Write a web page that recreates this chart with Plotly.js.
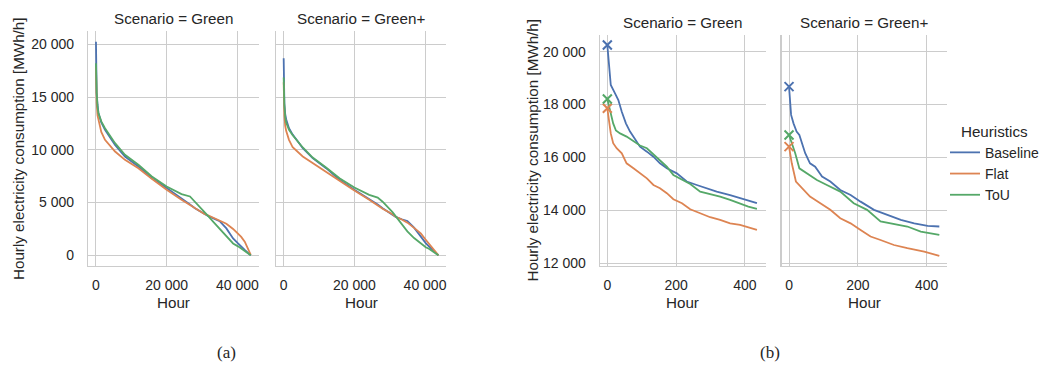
<!DOCTYPE html>
<html>
<head>
<meta charset="utf-8">
<script src="https://cdn.plot.ly/plotly-3.0.1.min.js"></script>
<style>
  html, body { margin: 0; padding: 0; background: #ffffff; }
  #chart { width: 1047px; height: 367px; }
</style>
</head>
<body>
<div id="chart"></div>
<script>
// ---------------- DATA ----------------
const heuristics = ["Baseline", "Flat", "ToU"];
const scenarios = ["Green", "Green+"];

// (a) full load-duration curves, hours 0 .. 43800
const aHours = [0, 10, 50, 100, 200, 438, 700, 1500, 2550, 5400, 8200, 12000, 15800, 20000,
                24200, 26600, 28000, 30800, 31700, 33400, 35000, 36900, 38800, 40200, 41100, 42100, 43800];

const aGreenBaseline = [20250, 18740, 17350, 16400, 15400, 14300, 13500, 12600, 11900, 10470, 9370, 8420, 7310, 6370,
                        5420, 4830, 4470, 3900, 3740, 3480, 3240, 2550, 1600, 1130, 820, 520, 0];
const aGreenFlat     = [17860, 16910, 15700, 15300, 14450, 13260, 12800, 11700, 10950, 9840, 9050, 8260, 7250, 6210,
                        5260, 4760, 4410, 3900, 3800, 3560, 3330, 3000, 2500, 2080, 1750, 1290, 50];
const aGreenToU      = [18210, 17700, 16800, 16420, 15380, 14060, 13450, 12700, 12050, 10630, 9530, 8580, 7470, 6520,
                        5800, 5580, 5100, 4090, 3740, 3100, 2500, 1750, 1130, 850, 660, 420, 0];

const aGreenPBaseline = [18680, 17400, 16100, 15300, 14380, 13390, 12900, 12050, 11440, 10160, 9210, 8260, 7160, 6210,
                         5350, 4830, 4470, 3900, 3650, 3420, 3260, 2620, 1720, 1160, 860, 520, 0];
const aGreenPFlat     = [16410, 15700, 14650, 14200, 13250, 12280, 11800, 10950, 10240, 9370, 8740, 7950, 7060, 6140,
                         5260, 4740, 4410, 3900, 3650, 3400, 3100, 2600, 2080, 1480, 1100, 750, 0];
const aGreenPToU      = [16850, 16500, 15420, 15020, 14200, 13070, 12600, 11900, 11380, 10220, 9270, 8330, 7310, 6430,
                         5730, 5480, 5080, 4090, 3700, 2880, 2270, 1640, 1080, 760, 620, 420, 0];

// (b) zoom on the first 1 % of hours
const bGreenBaselineH = [0, 10, 22, 32, 42, 54, 66, 81, 95, 115, 134, 153, 173, 202, 231, 260, 289, 318, 357, 386, 406, 435];
const bGreenBaseline  = [20250, 18740, 18430, 18170, 17730, 17290, 16980, 16660, 16410, 16220, 16030, 15780, 15590, 15400,
                         15090, 14960, 14840, 14710, 14580, 14460, 14370, 14270];
const bGreenFlatH = [0, 4, 10, 17, 27, 42, 56, 76, 95, 115, 134, 153, 173, 192, 217, 241, 270, 299, 328, 357, 386, 410, 435];
const bGreenFlat  = [17860, 17420, 16910, 16540, 16350, 16160, 15780, 15590, 15400, 15210, 14960, 14840, 14650, 14420,
                     14270, 14040, 13890, 13740, 13640, 13510, 13450, 13360, 13260];
const bGreenToUH = [0, 6, 17, 25, 37, 56, 76, 95, 115, 134, 153, 173, 192, 217, 241, 270, 299, 328, 357, 386, 410, 435];
const bGreenToU  = [18210, 17860, 17290, 17020, 16910, 16790, 16600, 16450, 16350, 16130, 15910, 15650, 15340, 15150,
                    15000, 14710, 14620, 14520, 14400, 14270, 14140, 14060];

const bGreenPBaselineH = [0, 3, 6, 13, 22, 30, 37, 47, 61, 76, 96, 120, 149, 179, 208, 247, 286, 325, 364, 403, 437];
const bGreenPBaseline  = [18680, 18170, 17610, 17290, 16980, 16850, 16540, 16160, 15780, 15650, 15280, 15090, 14770,
                          14580, 14330, 14020, 13830, 13640, 13510, 13410, 13390];
const bGreenPFlatH = [0, 3, 8, 20, 42, 61, 91, 120, 149, 179, 208, 237, 266, 305, 344, 393, 437];
const bGreenPFlat  = [16410, 16160, 15780, 15090, 14770, 14520, 14270, 14020, 13700, 13510, 13260, 13010, 12880, 12690,
                      12570, 12440, 12280];
const bGreenPToUH = [0, 3, 8, 18, 30, 52, 81, 110, 149, 188, 227, 266, 305, 344, 383, 437];
const bGreenPToU  = [16850, 16730, 16600, 16160, 15590, 15400, 15150, 14960, 14710, 14270, 14020, 13580, 13490, 13390,
                     13200, 13070];

// ---------------- STYLE / LAYOUT ----------------
const W = 1047, H = 367;
const colors = {Baseline: "#4c72b0", Flat: "#dd8452", ToU: "#55a868"};
const textColor = "#262626";
const gridColor = "#cccccc";
const FONT = "Liberation Sans, Arial, sans-serif";
const FS_TICK = 14;
const FS_LABEL = 15.2;

const px = v => v / W;
const py = v => 1 - v / H;

const traces = [];
function addLine(x, y, name, xa, ya, legend) {
  traces.push({
    type: "scatter", mode: "lines", x: x, y: y, name: name,
    xaxis: xa, yaxis: ya, legendgroup: name, showlegend: legend,
    line: {color: colors[name], width: 1.8},
    hoverinfo: "skip"
  });
}
function addMark(x, y, name, xa, ya) {
  traces.push({
    type: "scatter", mode: "markers", x: [x[0]], y: [y[0]], name: name,
    xaxis: xa, yaxis: ya, legendgroup: name, showlegend: false,
    marker: {symbol: "x-thin", size: 9, color: colors[name], line: {color: colors[name], width: 2}},
    hoverinfo: "skip"
  });
}

// (a)
addLine(aHours, aGreenBaseline, "Baseline", "x", "y", false);
addLine(aHours, aGreenFlat, "Flat", "x", "y", false);
addLine(aHours, aGreenToU, "ToU", "x", "y", false);
addLine(aHours, aGreenPBaseline, "Baseline", "x2", "y2", false);
addLine(aHours, aGreenPFlat, "Flat", "x2", "y2", false);
addLine(aHours, aGreenPToU, "ToU", "x2", "y2", false);
// (b)
addLine(bGreenBaselineH, bGreenBaseline, "Baseline", "x3", "y3", true);
addLine(bGreenFlatH, bGreenFlat, "Flat", "x3", "y3", true);
addLine(bGreenToUH, bGreenToU, "ToU", "x3", "y3", true);
addLine(bGreenPBaselineH, bGreenPBaseline, "Baseline", "x4", "y4", false);
addLine(bGreenPFlatH, bGreenPFlat, "Flat", "x4", "y4", false);
addLine(bGreenPToUH, bGreenPToU, "ToU", "x4", "y4", false);
addMark(bGreenBaselineH, bGreenBaseline, "Baseline", "x3", "y3");
addMark(bGreenFlatH, bGreenFlat, "Flat", "x3", "y3");
addMark(bGreenToUH, bGreenToU, "ToU", "x3", "y3");
addMark(bGreenPBaselineH, bGreenPBaseline, "Baseline", "x4", "y4");
addMark(bGreenPFlatH, bGreenPFlat, "Flat", "x4", "y4");
addMark(bGreenPToUH, bGreenPToU, "ToU", "x4", "y4");

function xAxis(d0, d1, range, dtick, anchor) {
  return {
    domain: [px(d0), px(d1)], range: range, anchor: anchor, dtick: dtick, tick0: 0,
    showgrid: true, gridcolor: gridColor, gridwidth: 1, zeroline: false,
    showline: true, linecolor: gridColor, linewidth: 1.25,
    ticks: "outside", ticklen: 6, tickcolor: "rgba(0,0,0,0)",
    tickformat: ",d", tickfont: {family: FONT, size: FS_TICK, color: textColor},
    fixedrange: true
  };
}
function yAxis(top, bottom, range, dtick, anchor, labels) {
  return {
    domain: [py(bottom), py(top)], range: range, anchor: anchor, dtick: dtick, tick0: 0,
    showgrid: true, gridcolor: gridColor, gridwidth: 1, zeroline: false,
    showline: true, linecolor: gridColor, linewidth: 1.25,
    ticks: "outside", ticklen: 10, tickcolor: "rgba(0,0,0,0)",
    showticklabels: labels,
    tickformat: ",d", tickfont: {family: FONT, size: FS_TICK, color: textColor},
    fixedrange: true
  };
}

const aX = [-2200, 45990], aY = [-1010, 21260];
const bX = [-21.9, 459.9], bY = [11900, 20650];

function ann(text, x, y, opts) {
  return Object.assign({
    text: text, xref: "paper", yref: "paper", x: px(x), y: py(y),
    xanchor: "center", yanchor: "middle", showarrow: false,
    font: {family: FONT, size: FS_LABEL, color: textColor}
  }, opts || {});
}

const yTitle = "Hourly electricity consumption [MWh/h]";
const annotations = [
  ann("Scenario = " + scenarios[0], 173.3, 18.5),
  ann("Scenario = " + scenarios[1], 361.0, 18.5),
  ann("Scenario = " + scenarios[0], 682.6, 22),
  ann("Scenario = " + scenarios[1], 864.3, 22),
  ann("Hour", 173.3, 302.5),
  ann("Hour", 361.0, 302.5),
  ann("Hour", 682.6, 302.5),
  ann("Hour", 864.3, 302.5),
  ann(yTitle, 18.5, 148.5, {textangle: -90}),
  ann(yTitle, 531.5, 150, {textangle: -90}),
  ann("(a)", 226, 352, {font: {family: "Liberation Serif, serif", size: 17, color: textColor}}),
  ann("(b)", 770, 352, {font: {family: "Liberation Serif, serif", size: 17, color: textColor}})
];

const layout = {
  width: W, height: H,
  margin: {l: 0, r: 0, t: 0, b: 0, pad: 0},
  paper_bgcolor: "#ffffff", plot_bgcolor: "#ffffff",
  separators: ". ",
  font: {family: FONT, size: FS_TICK, color: textColor},
  xaxis:  xAxis(88.2, 258.5, aX, 20000, "y"),
  xaxis2: xAxis(275.9, 446.2, aX, 20000, "y2"),
  xaxis3: xAxis(599.8, 765.5, bX, 200, "y3"),
  xaxis4: xAxis(781.5, 947.2, bX, 200, "y4"),
  yaxis:  yAxis(31.0, 266.0, aY, 5000, "x", true),
  yaxis2: yAxis(31.0, 266.0, aY, 5000, "x2", false),
  yaxis3: yAxis(34.5, 265.9, bY, 2000, "x3", true),
  yaxis4: yAxis(34.5, 265.9, bY, 2000, "x4", false),
  showlegend: true,
  legend: {
    x: px(945), y: py(117), xanchor: "left", yanchor: "top",
    bgcolor: "rgba(0,0,0,0)", borderwidth: 0,
    font: {family: FONT, size: FS_TICK, color: textColor},
    title: {text: "Heuristics", side: "top center", font: {family: FONT, size: FS_LABEL, color: textColor}},
    itemwidth: 30, tracegroupgap: 0
  },
  annotations: annotations
};

Plotly.newPlot("chart", traces, layout, {staticPlot: true, displayModeBar: false});
</script>
</body>
</html>
